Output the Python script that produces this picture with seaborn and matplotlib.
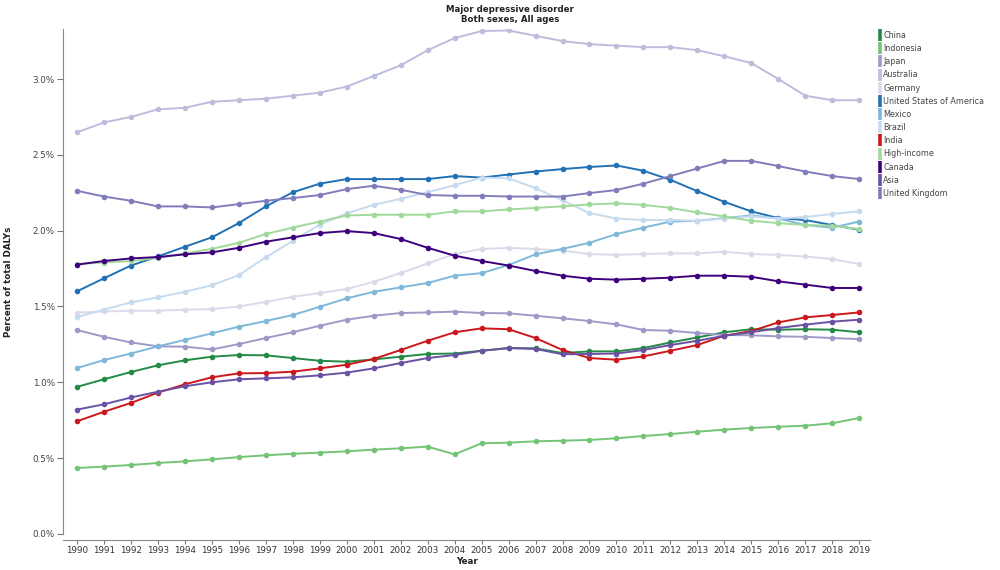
import numpy as np
import pandas as pd
import seaborn as sns
from matplotlib import pyplot as plt
from matplotlib.lines import Line2D
from matplotlib.ticker import FuncFormatter

years = list(range(1990, 2020))

china = [0.97, 1.02, 1.068, 1.112, 1.145, 1.169, 1.18, 1.178, 1.16, 1.142,
         1.136, 1.151, 1.169, 1.187, 1.19, 1.208, 1.226, 1.224, 1.193, 1.204,
         1.204, 1.226, 1.263, 1.296, 1.33, 1.35, 1.347, 1.35, 1.347, 1.33]
indonesia = [0.435, 0.444, 0.455, 0.468, 0.479, 0.492, 0.507, 0.519, 0.529, 0.536,
             0.545, 0.556, 0.565, 0.576, 0.525, 0.598, 0.602, 0.611, 0.615, 0.62,
             0.631, 0.646, 0.659, 0.674, 0.688, 0.699, 0.707, 0.714, 0.73, 0.765]
japan = [1.345, 1.30, 1.263, 1.237, 1.235, 1.217, 1.252, 1.292, 1.33, 1.373,
         1.413, 1.439, 1.457, 1.461, 1.466, 1.457, 1.455, 1.439, 1.422, 1.404,
         1.382, 1.345, 1.34, 1.325, 1.312, 1.31, 1.303, 1.30, 1.292, 1.285]
australia = [2.648, 2.714, 2.75, 2.80, 2.81, 2.85, 2.86, 2.87, 2.89, 2.91,
             2.95, 3.02, 3.09, 3.19, 3.27, 3.316, 3.32, 3.285, 3.25, 3.23,
             3.22, 3.21, 3.21, 3.19, 3.15, 3.105, 3.00, 2.89, 2.86, 2.86]
germany = [1.46, 1.467, 1.472, 1.472, 1.479, 1.483, 1.50, 1.53, 1.564, 1.589,
           1.615, 1.663, 1.72, 1.784, 1.846, 1.879, 1.887, 1.879, 1.868, 1.846,
           1.84, 1.846, 1.85, 1.85, 1.861, 1.846, 1.84, 1.83, 1.813, 1.78]
usa = [1.60, 1.686, 1.77, 1.83, 1.894, 1.956, 2.05, 2.16, 2.253, 2.31,
       2.34, 2.34, 2.34, 2.34, 2.36, 2.35, 2.37, 2.39, 2.406, 2.42,
       2.43, 2.395, 2.335, 2.26, 2.19, 2.127, 2.083, 2.07, 2.037, 2.006]
mexico = [1.094, 1.147, 1.19, 1.237, 1.28, 1.323, 1.367, 1.404, 1.444, 1.498,
          1.554, 1.597, 1.626, 1.655, 1.703, 1.72, 1.773, 1.844, 1.88, 1.92,
          1.978, 2.02, 2.06, 2.065, 2.083, 2.10, 2.08, 2.037, 2.02, 2.06]
brazil = [1.43, 1.48, 1.527, 1.56, 1.597, 1.64, 1.707, 1.824, 1.933, 2.04,
          2.114, 2.17, 2.21, 2.253, 2.30, 2.35, 2.345, 2.28, 2.20, 2.116,
          2.08, 2.07, 2.07, 2.065, 2.08, 2.094, 2.08, 2.09, 2.11, 2.127]
india = [0.743, 0.806, 0.864, 0.932, 0.987, 1.033, 1.059, 1.061, 1.07, 1.092,
         1.116, 1.154, 1.213, 1.274, 1.33, 1.356, 1.35, 1.292, 1.213, 1.16,
         1.149, 1.171, 1.208, 1.246, 1.307, 1.338, 1.395, 1.428, 1.444, 1.461]
high_income = [1.78, 1.79, 1.80, 1.82, 1.85, 1.88, 1.92, 1.978, 2.02, 2.06,
               2.10, 2.105, 2.105, 2.105, 2.127, 2.127, 2.14, 2.15, 2.16, 2.173,
               2.18, 2.17, 2.15, 2.12, 2.094, 2.065, 2.05, 2.037, 2.033, 2.01]
canada = [1.776, 1.80, 1.817, 1.826, 1.844, 1.857, 1.887, 1.927, 1.956, 1.984,
          1.997, 1.984, 1.945, 1.887, 1.835, 1.80, 1.77, 1.734, 1.703, 1.683,
          1.677, 1.683, 1.69, 1.703, 1.703, 1.696, 1.666, 1.644, 1.622, 1.622]
asia = [0.82, 0.855, 0.90, 0.938, 0.974, 1.00, 1.02, 1.026, 1.033, 1.046,
        1.064, 1.092, 1.127, 1.16, 1.18, 1.208, 1.226, 1.22, 1.185, 1.187,
        1.19, 1.213, 1.246, 1.274, 1.307, 1.33, 1.358, 1.38, 1.40, 1.413]
uk = [2.263, 2.225, 2.197, 2.16, 2.16, 2.153, 2.175, 2.197, 2.215, 2.235,
      2.274, 2.296, 2.27, 2.235, 2.23, 2.23, 2.225, 2.225, 2.225, 2.248,
      2.268, 2.31, 2.36, 2.41, 2.46, 2.46, 2.426, 2.39, 2.36, 2.34]

locations = ["China", "Indonesia", "Japan", "Australia", "Germany",
             "United States of America", "Mexico", "Brazil", "India",
             "High-income", "Canada", "Asia", "United Kingdom"]
series = [china, indonesia, japan, australia, germany, usa, mexico, brazil,
          india, high_income, canada, asia, uk]
colors = ["#238b45", "#74c476", "#9e9ac8", "#bcbddc", "#dadaeb", "#2171b5",
          "#7fb8da", "#c6dbef", "#cb181d", "#a1d99b", "#3f007d", "#6a51a3",
          "#807dba"]

rows = []
for loc, vals in zip(locations, series):
    for y, v in zip(years, vals):
        rows.append({"location": loc, "year": y, "value": v})
df = pd.DataFrame(rows)
palette = dict(zip(locations, colors))

sns.set_style("white")
plt.rcParams['font.family'] = ['DejaVu Sans']

fig = plt.figure(figsize=(10, 5.7), dpi=100)
# axes: y=0 at pixel 534, top at pixel 29
ax = fig.add_axes([0.063, 0.0632, 0.807, 0.886])

sns.lineplot(data=df, x="year", y="value", hue="location", hue_order=locations,
             palette=palette, marker="o", markersize=4, markeredgewidth=0,
             linewidth=1.4, legend=False, ax=ax)

ax.set_xlim(1989.48, 2019.4)
ax.set_ylim(0, 3.33)
ax.set_xticks(years)
ax.set_xticklabels([str(y) for y in years])
ax.set_yticks([0, 0.5, 1.0, 1.5, 2.0, 2.5, 3.0])
ax.yaxis.set_major_formatter(FuncFormatter(lambda v, p: "%.1f%%" % v))
ax.tick_params(axis="y", left=True, labelsize=6.3, colors="#777777",
               labelcolor="#444444", length=4, width=0.8, pad=2)
ax.tick_params(axis="x", bottom=True, labelsize=6.3, length=3, width=0.8,
               colors="#777777", labelcolor="#333333", pad=2)
for s in ["top", "right"]:
    ax.spines[s].set_visible(False)
for s in ["left", "bottom"]:
    ax.spines[s].set_color("#888888")
    ax.spines[s].set_linewidth(0.8)
ax.spines["bottom"].set_position(("outward", 4))

ax.set_xlabel("Year", fontsize=6.3, fontweight="bold", color="#222222")
ax.xaxis.set_label_coords(0.5, -0.045)
ax.set_ylabel("Percent of total DALYs", fontsize=6.3, fontweight="bold",
              color="#222222")
ax.yaxis.set_label_coords(-0.062, 0.5)

fig.text(0.51, 0.992, "Major depressive disorder", ha="center", va="top",
         fontsize=6.2, fontweight="bold", color="#222222")
fig.text(0.51, 0.974, "Both sexes, All ages", ha="center", va="top",
         fontsize=6.2, fontweight="bold", color="#222222")

handles = [Line2D([0], [0], color=c, marker="|", markersize=8,
                  markeredgewidth=2.6, linestyle="none") for c in colors]
fig.legend(handles, locations, loc="upper left", bbox_to_anchor=(0.879, 0.946),
           frameon=False, fontsize=5.8, labelspacing=0.52, handlelength=0.3,
           handletextpad=0.25, borderpad=0, borderaxespad=0,
           labelcolor="#444444")

fig.savefig("out.png", dpi=100)
